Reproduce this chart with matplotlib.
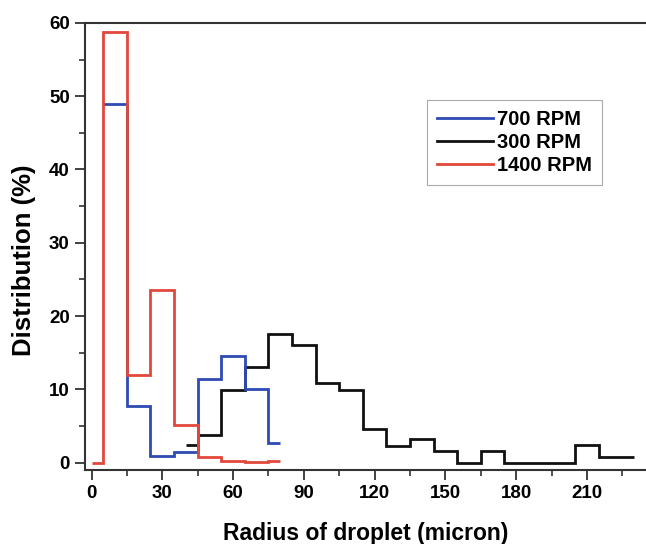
import matplotlib
matplotlib.use("Agg")
import matplotlib.pyplot as plt
from matplotlib.ticker import MultipleLocator
from matplotlib.lines import Line2D

plt.rcParams['font.family'] = ['Liberation Sans', 'DejaVu Sans']
plt.rcParams['font.weight'] = 'bold'

# Data (bin edges in micron, distribution in %)
edges_700 = [5, 15, 25, 35, 45, 55, 65, 75, 80]
vals_700 = [48.9, 7.7, 0.9, 1.4, 11.4, 14.5, 10.0, 2.7]

edges_300 = [40, 45, 55, 65, 75, 85, 95, 105, 115, 125, 135, 145, 155, 165, 175, 185, 195, 205, 215, 230]
vals_300 = [2.4, 3.8, 9.9, 13.0, 17.5, 16.1, 10.9, 9.9, 4.6, 2.3, 3.2, 1.6, 0.0, 1.6, 0.0, 0.0, 0.0, 2.4, 0.8]

edges_1400 = [0, 5, 15, 25, 35, 45, 55, 65, 75, 80]
vals_1400 = [0.0, 58.7, 12.0, 23.5, 5.2, 0.8, 0.2, 0.05, 0.2]

labels = ["700 RPM", "300 RPM", "1400 RPM"]
colors = {"700 RPM": "#2d4bb3", "300 RPM": "#111111", "1400 RPM": "#e2473b"}

fig = plt.figure(figsize=(6.46, 5.44), dpi=100)
ax = fig.add_axes([0.1316, 0.136, 0.8684, 0.822])

lw = 2.0
ax.stairs(vals_300, edges_300, baseline=None, color=colors["300 RPM"], lw=lw, zorder=2)
ax.stairs(vals_700, edges_700, baseline=None, color=colors["700 RPM"], lw=lw, zorder=3)
ax.stairs(vals_1400, edges_1400, baseline=None, color=colors["1400 RPM"], lw=lw, zorder=4)

ax.set_xlim(-2.75, 235)
ax.set_ylim(-1.0, 60)

ax.xaxis.set_major_locator(MultipleLocator(30))
ax.xaxis.set_minor_locator(MultipleLocator(15))
ax.yaxis.set_major_locator(MultipleLocator(10))
ax.yaxis.set_minor_locator(MultipleLocator(5))

ax.tick_params(which='major', direction='out', length=7, width=1.3, labelsize=13.5, color='#333333', pad=4)
ax.tick_params(which='minor', direction='out', length=4, width=1.2, color='#333333')
ax.tick_params(top=False, right=False, which='both')
for lab in ax.get_xticklabels() + ax.get_yticklabels():
    lab.set_fontweight('bold')

for s in ['left', 'bottom', 'top']:
    ax.spines[s].set_linewidth(1.5)
    ax.spines[s].set_color('#333333')
ax.spines['right'].set_visible(False)

ax.set_xlabel("Radius of droplet (micron)", fontsize=16.5, fontweight='bold', labelpad=14)
ax.set_ylabel("Distribution (%)", fontsize=18.5, fontweight='bold')
ax.yaxis.set_label_coords(-0.0873, 0.468)

handles = [Line2D([], [], color=colors[l], lw=lw) for l in labels]
leg = ax.legend(handles, labels, loc='upper left', bbox_to_anchor=(0.609, 0.827),
                borderaxespad=0, fancybox=False, edgecolor='#aaaaaa', framealpha=1,
                prop={'weight': 'bold', 'size': 14.5}, handlelength=2.8, handletextpad=0.2,
                labelspacing=0.2, borderpad=0.5)
leg.get_frame().set_linewidth(0.8)

fig.savefig("out.png", dpi=100)
